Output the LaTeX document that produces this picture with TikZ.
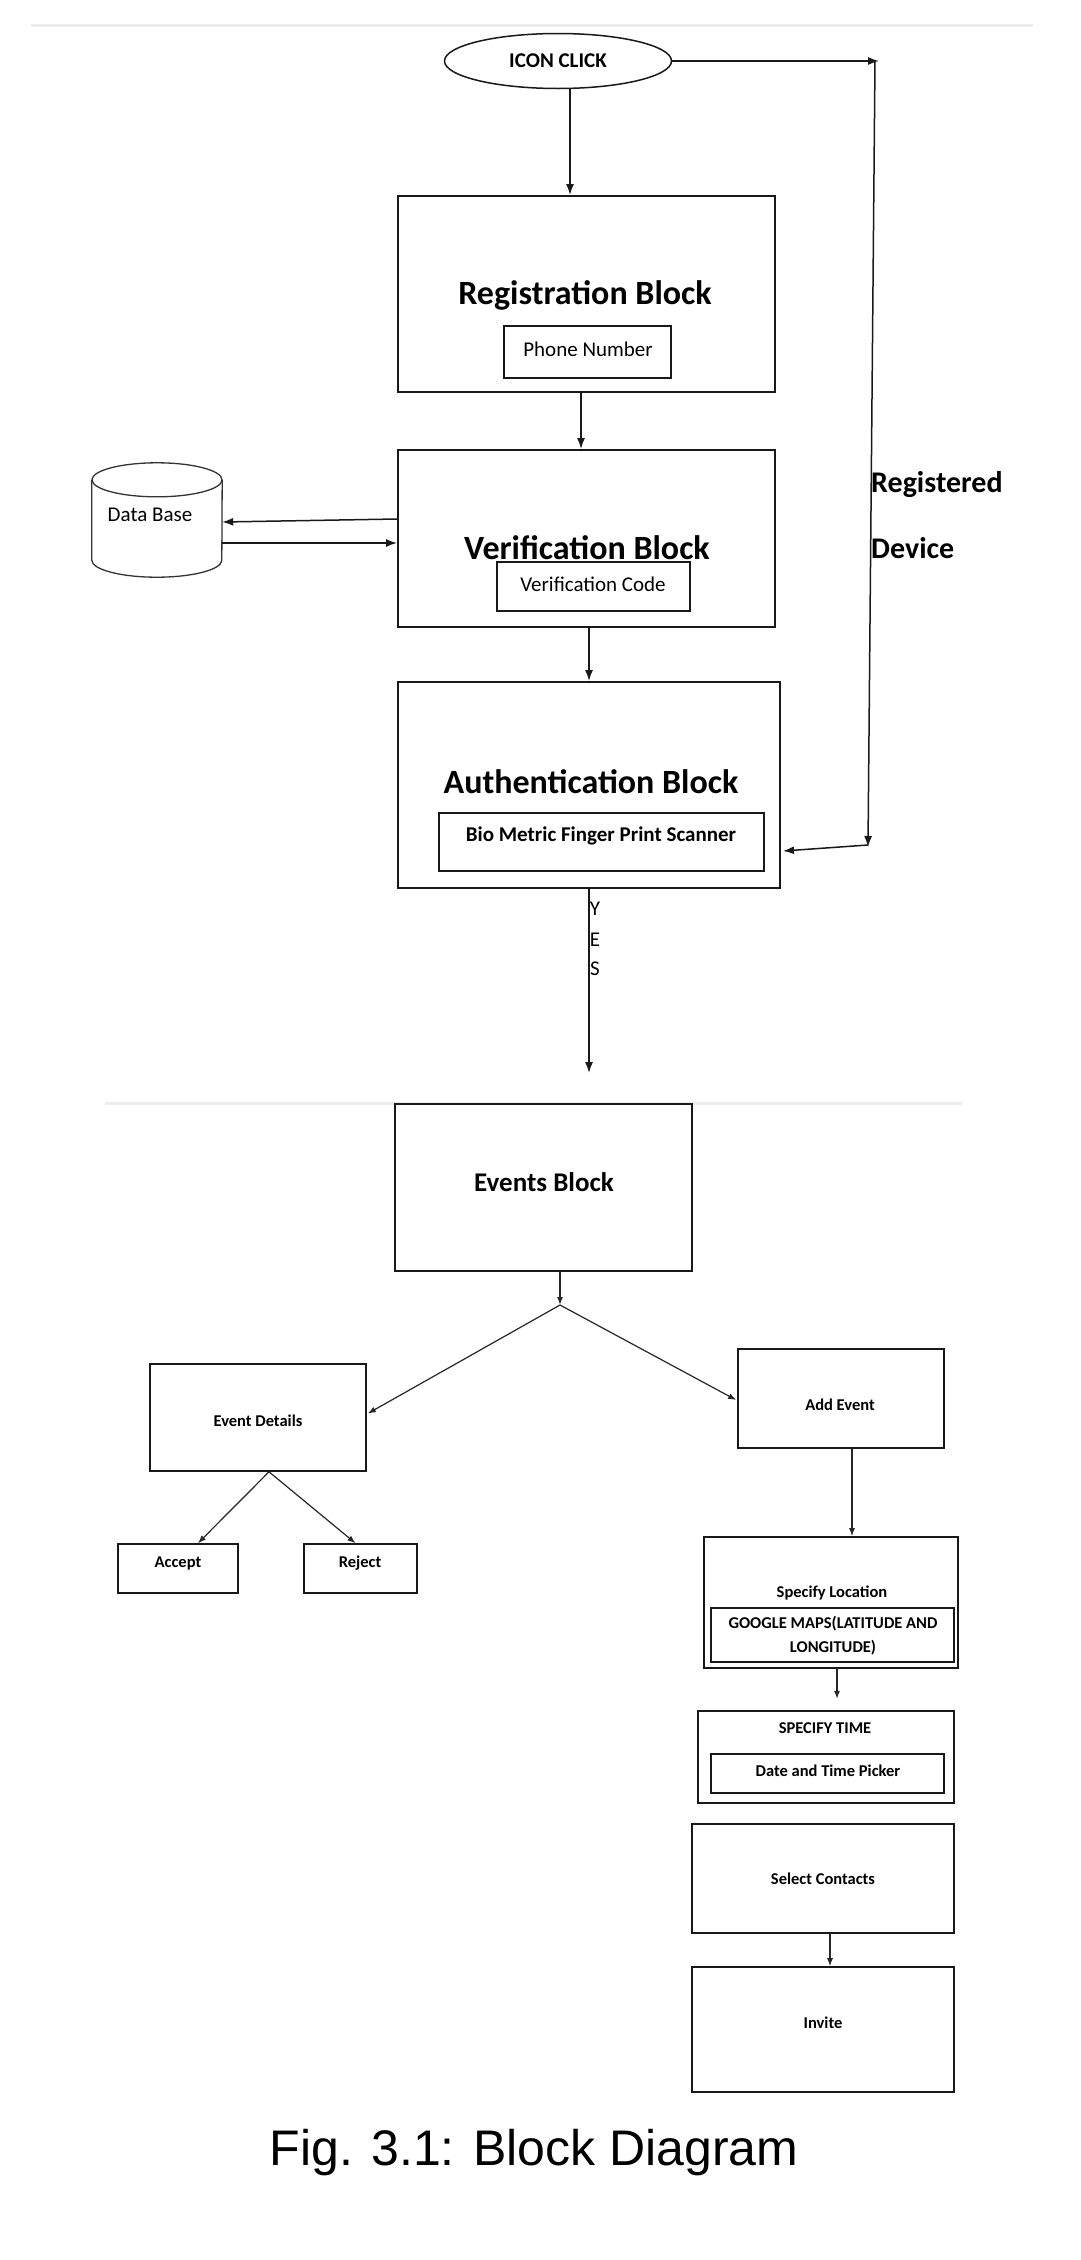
\documentclass[tikz,border=0pt]{standalone}
\usepackage{fontspec}
\setmainfont{Carlito}
\newfontfamily\capfont{Liberation Sans}
\usetikzlibrary{arrows.meta,calc,shapes.geometric}
\begin{document}
\begin{tikzpicture}[x=1pt,y=-1pt,
  box/.style={draw=black!90, line width=2pt, inner sep=0pt},
  arr/.style={draw=black!90, line width=1.5pt, -{Latex[length=11pt,width=8pt]}},
  sarr/.style={draw=black!85, line width=1.2pt, -{Latex[length=8pt,width=6pt]}},
  ttl/.style={font=\bfseries\fontsize{34}{40}\selectfont, inner sep=0pt},
  lbl/.style={font=\fontsize{21}{25}\selectfont, inner sep=0pt},
  blbl/.style={font=\bfseries\fontsize{21}{25}\selectfont, inner sep=0pt},
  sml/.style={font=\bfseries\fontsize{16.5}{24}\selectfont, inner sep=0pt, align=center},
  sep/.style={draw=black!7, line width=3pt}
]
\fill[white] (0,0) rectangle (1080,2260);
\useasboundingbox (0,0) rectangle (1080,2260);

% separator lines
\coordinate (s1a) at (31,25);  \coordinate (s1b) at (1033,25);
\coordinate (s2a) at (105,1103); \coordinate (s2b) at (962,1103);
\draw[sep] (s1a) -- (s1b);
\draw[sep] (s2a) -- (s2b);

% top part
\node[ellipse, draw=black!90, line width=1.5pt, minimum width=227pt, minimum height=55pt, inner sep=0pt, blbl] (icon) at (558,61) {ICON CLICK};

\node[box, minimum width=377pt, minimum height=196pt] (reg) at (586.5,294) {};
\node[ttl] (regt) at (585,295) {Registration Block};
\node[box, minimum width=167pt, minimum height=52pt] (phone) at (587.5,352) {};
\node[lbl] (phonet) at (588,349) {Phone Number};

\node[box, minimum width=377pt, minimum height=177pt] (ver) at (586.5,538.5) {};
\node[ttl] (vert) at (587,548) {Verification Block};
\node[box, minimum width=193pt, minimum height=49pt] (vcode) at (593.5,586.5) {};
\node[lbl] (vcodet) at (593,584) {Verification Code};

\node[box, minimum width=382pt, minimum height=206pt] (auth) at (589,785) {};
\node[ttl] (autht) at (591,782) {Authentication Block};
\node[box, minimum width=325pt, minimum height=58pt] (bio) at (601.5,842) {};
\node[blbl] (biot) at (601,836) {Bio Metric Finger Print Scanner};

% database
\node[minimum width=130pt, minimum height=114pt, inner sep=0pt] (db) at (157,520) {};
\draw[black!80, line width=1.3pt] ($(db.north)+(0,17)$) ellipse [x radius=65pt, y radius=17pt];
\draw[black!80, line width=1.3pt] ($(db.north west)+(0,17)$) -- ($(db.south west)+(0,-17)$)
  arc[start angle=180, end angle=360, x radius=65pt, y radius=17pt] -- ($(db.north east)+(0,17)$);
\node[lbl] (dbt) at (150,515) {Data Base};

\draw[arr] ($(ver.west)+(0,-19.5)$) -- ($(db.east)+(0,2)$);
\draw[arr] ($(db.east)+(0,23)$) -- ($(ver.west)+(0,4.5)$);

% registered device
\node[font=\bfseries\fontsize{30}{36}\selectfont, inner sep=0pt, anchor=west] (regd1) at (871,485) {Registered};
\node[font=\bfseries\fontsize{30}{36}\selectfont, inner sep=0pt, anchor=west] (regd2) at (871,548) {Device};

\coordinate (c1) at (879,61);
\coordinate (c1b) at (875,61);
\coordinate (c2) at (868,847);
\draw[arr] (icon.east) -- (c1);
\draw[arr] (c1b) -- (c2);
\draw[arr] ($(c2)+(0,-2)$) -- ($(auth.east)+(2,66)$);

% vertical flow
\coordinate (a0) at ($(icon.south)+(12,0)$);
\draw[arr] (a0) -- (a0 |- reg.north);
\coordinate (a1) at ($(reg.south)+(-5.5,0)$);
\draw[arr] (a1) -- (a1 |- ver.north);
\coordinate (a2) at ($(ver.south)+(2.5,0)$);
\draw[arr] (a2) -- (a2 |- auth.north);
\coordinate (a3) at ($(auth.south)+(0,0)$);
\coordinate (a3e) at (589,1073);
\draw[arr] (a3) -- (a3e);
\node[lbl] (y1) at (595,909) {Y};
\node[lbl] (y2) at (595,940) {E};
\node[lbl] (y3) at (595,969) {S};

% events part
\node[box, minimum width=297pt, minimum height=167pt] (events) at (543.5,1187.5) {};
\node[font=\bfseries\fontsize{27}{32}\selectfont, inner sep=0pt] (eventst) at (544,1182) {Events Block};

\coordinate (j1) at (560,1305);
\draw[sarr] (j1 |- events.south) -- (j1);

\node[box, line width=1.6pt, minimum width=216pt, minimum height=107pt] (evdet) at (258,1417.5) {};
\node[sml] (evdett) at (258,1421) {Event Details};
\node[box, line width=1.6pt, minimum width=206pt, minimum height=99pt] (addev) at (841,1398.5) {};
\node[sml] (addevt) at (840,1405) {Add Event};
\draw[sarr] (j1) -- ($(evdet.east)+(1,-4)$);
\draw[sarr] (j1) -- ($(addev.west)+(-1,1.5)$);

\node[box, line width=1.6pt, minimum width=120pt, minimum height=49pt] (accept) at (178,1568.5) {};
\node[sml] (acceptt) at (178,1563) {Accept};
\node[box, line width=1.6pt, minimum width=113pt, minimum height=49pt] (reject) at (360.5,1568.5) {};
\node[sml] (rejectt) at (360,1563) {Reject};
\coordinate (j2) at ($(evdet.south)+(11,0)$);
\draw[sarr] (j2) -- ($(accept.north)+(20,0)$);
\draw[sarr] (j2) -- ($(reject.north)+(-5,0)$);

\node[box, line width=1.6pt, minimum width=254pt, minimum height=131pt] (loc) at (831,1602.5) {};
\node[sml] (loct) at (832,1593) {Specify Location};
\node[box, line width=1.6pt, minimum width=243pt, minimum height=54pt] (gmaps) at (832.5,1635) {};
\node[sml] (gmapst) at (833,1636) {GOOGLE MAPS(LATITUDE AND\\LONGITUDE)};
\coordinate (b1) at ($(addev.south)+(11,0)$);
\draw[sarr] (b1) -- (b1 |- loc.north);

\coordinate (b2) at ($(loc.south)+(6,0)$);
\coordinate (b2e) at ($(b2)+(0,30)$);
\draw[sarr] (b2) -- (b2e);

\node[box, line width=1.6pt, minimum width=256pt, minimum height=92pt] (time) at (826,1757) {};
\node[sml] (timet) at (825,1728) {SPECIFY TIME};
\node[box, line width=1.6pt, minimum width=233pt, minimum height=39pt] (dtp) at (827.5,1773.5) {};
\node[sml] (dtpt) at (828,1771) {Date and Time Picker};

\node[box, line width=1.6pt, minimum width=262pt, minimum height=109pt] (contacts) at (823,1878.5) {};
\node[sml] (contactst) at (823,1879) {Select Contacts};
\node[box, line width=1.6pt, minimum width=262pt, minimum height=125pt] (invite) at (823,2029.5) {};
\node[sml] (invitet) at (823,2023) {Invite};
\coordinate (b3) at ($(contacts.south)+(7,0)$);
\draw[sarr] (b3) -- (b3 |- invite.north);

% caption
\node[font=\capfont\fontsize{50}{60}\selectfont, inner sep=0pt] (cap) at (534,2153) {Fig. 3.1: Block Diagram};
\end{tikzpicture}
\end{document}
